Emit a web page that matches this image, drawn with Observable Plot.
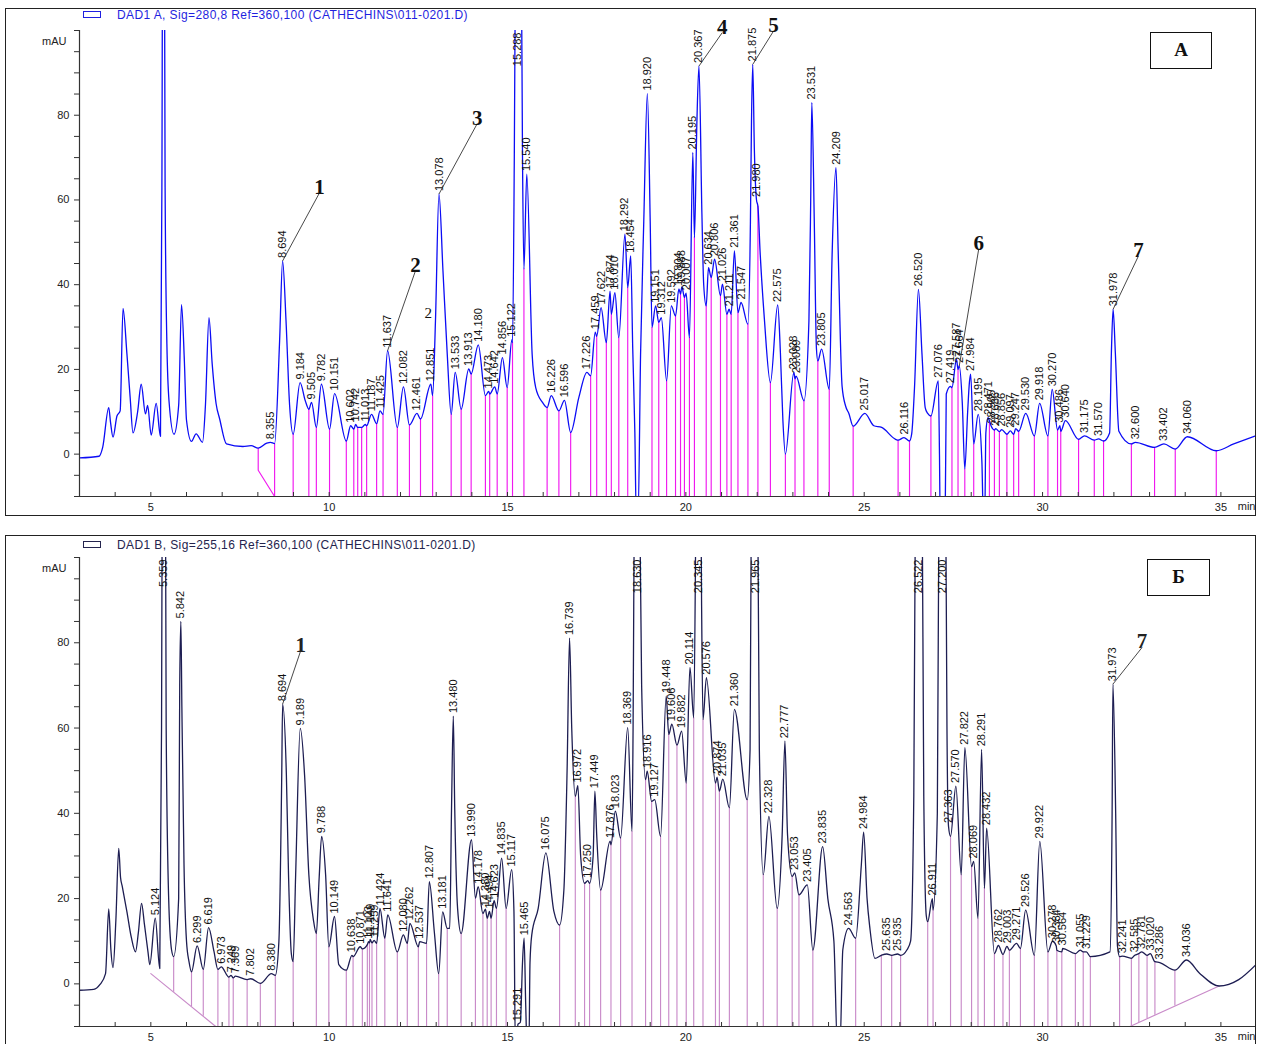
<!DOCTYPE html>
<html>
<head>
<meta charset="utf-8">
<script src="https://cdn.jsdelivr.net/npm/d3@7"></script>
<script src="https://cdn.jsdelivr.net/npm/@observablehq/plot@0.6"></script>
<style>
  body { margin: 0; background: #fff; font-family: "Liberation Sans", Arial, sans-serif; }
  #page { position: relative; width: 1261px; height: 1044px; overflow: hidden; }
  .frame { position: absolute; left: 5px; width: 1251px; border: 1.5px solid #222; box-sizing: border-box; }
  .chart { position: absolute; left: 0; }
  .hdr { position: absolute; left: 83px; font-size: 12px; line-height: 13px; white-space: nowrap; letter-spacing: 0.4px; }
  .hdr i { display: inline-block; width: 16px; height: 5px; border: 1.3px solid currentColor; margin-right: 16px; vertical-align: 1px; }
  .tag { position: absolute; border: 1.5px solid #111; box-sizing: border-box; text-align: center;
         font: bold 19px "Liberation Serif", "DejaVu Serif", serif; color: #111; }
</style>
</head>
<body>
<div id="page">
  <div class="frame" style="top:8px;height:508px"></div>
  <div class="frame" style="top:535px;height:520px"></div>
  <div class="chart" id="chartA" style="top:0"></div>
  <div class="chart" id="chartB" style="top:530px"></div>
  <div class="hdr" style="top:9px;color:#1f1fe0"><i></i>DAD1 A, Sig=280,8 Ref=360,100 (CATHECHINS\011-0201.D)</div>
  <div class="hdr" style="top:539px;color:#24244e"><i></i>DAD1 B, Sig=255,16 Ref=360,100 (CATHECHINS\011-0201.D)</div>
  <div class="tag" style="left:1150px;top:32px;width:62px;height:37px;line-height:34px">А</div>
  <div class="tag" style="left:1147px;top:559px;width:63px;height:37px;line-height:34px">Б</div>
</div>
<script>
// Retention time axis (min) and absorbance axis (mAU)
const X_DOMAIN = [3, 35.97];
const Y_DOMAIN = [-10, 100];
const xTickLabels = [5, 10, 15, 20, 25, 30, 35];
const yTickLabels = [0, 20, 40, 60, 80];

// ---- Signal A (280 nm) ----
// integrated peaks: [retention time, apex mAU]
const peaksA = [
  [8.355, 2.8], [8.694, 45.6], [9.184, 16.9], [9.505, 12.2], [9.782, 16.5], [10.151, 14.3],
  [10.602, 6.7], [10.742, 7.0], [11.013, 7.0], [11.187, 9.4], [11.425, 10.2], [11.637, 24.4],
  [12.082, 15.9], [12.461, 9.6], [12.851, 16.5], [13.078, 61.4], [13.533, 19.3], [13.913, 20.1],
  [14.180, 25.8], [14.473, 14.8], [14.642, 15.9], [14.856, 22.8], [15.122, 27.0], [15.288, 140],
  [15.540, 66.1], [16.226, 13.8], [16.596, 12.7], [17.226, 19.3], [17.459, 28.8], [17.622, 34.6],
  [17.874, 38.5], [18.010, 38.1], [18.292, 51.9], [18.454, 46.8], [18.920, 85.1], [19.151, 35.0],
  [19.312, 32.2], [19.592, 35.0], [19.804, 39.0], [19.888, 39.5], [20.007, 38.0], [20.195, 71.2],
  [20.367, 91.6], [20.634, 44.0], [20.806, 46.0], [21.026, 40.1], [21.211, 34.2], [21.361, 48.0],
  [21.547, 35.8], [21.875, 92.0], [21.980, 60.0], [22.575, 35.2], [23.028, 19.3], [23.089, 18.4],
  [23.531, 83.0], [23.805, 24.8], [24.209, 67.6], [25.017, 9.6], [26.116, 3.9], [26.520, 38.9],
  [27.076, 17.3], [27.419, 16.0], [27.587, 22.4], [27.664, 20.8], [27.984, 18.9], [28.195, 9.4],
  [28.471, 8.6], [28.565, 6.5], [28.686, 6.0], [28.856, 5.8], [29.097, 5.5], [29.247, 6.0],
  [29.530, 9.6], [29.918, 12.0], [30.270, 15.3], [30.486, 6.7], [30.640, 7.9], [31.175, 4.3],
  [31.570, 3.6], [31.978, 34.2], [32.600, 2.8], [33.402, 2.4], [34.060, 4.1]
];
// peak boundaries (drop lines): [time, mAU on the trace]
const dropsA = [
  [8.47, 2.5], [8.99, 4.7], [9.43, 10.6], [9.64, 6.3], [10.01, 5.9], [10.48, 3.1], [10.69, 5.9],
  [10.80, 6.3], [10.91, 6.3], [11.05, 6.7], [11.33, 7.2], [11.51, 9.4], [11.91, 6.3], [12.25, 6.9],
  [12.56, 8.3], [12.90, 13.8], [13.42, 9.4], [13.70, 10.6], [13.98, 18.9], [14.38, 13.8], [14.50, 14.2],
  [14.71, 14.2], [14.99, 15.7], [15.14, 26.3], [15.46, 43.7], [16.11, 11.0], [16.44, 10.2], [16.77, 5.1],
  [17.33, 18.5], [17.50, 27.8], [17.77, 26.3], [17.91, 33.0], [18.12, 27.5], [18.37, 39.3], [19.05, 29.9],
  [19.24, 31.1], [19.46, 17.3], [19.71, 32.6], [19.85, 37.8], [19.96, 37.0], [20.10, 27.5], [20.24, 51.1],
  [20.57, 35.0], [20.71, 41.7], [20.97, 37.4], [21.15, 33.0], [21.27, 33.0], [21.46, 33.4], [21.74, 30.7],
  [22.02, 58.5], [22.37, 16.9], [22.79, 0.0], [23.06, 17.8], [23.31, 12.6], [23.70, 22.0], [24.02, 15.3],
  [24.69, 6.6], [25.95, 3.3], [26.27, 3.1], [26.87, 9.0], [27.46, 15.7], [27.63, 20.0], [27.82, -3.5],
  [28.07, 2.4], [28.51, 7.9], [28.65, 5.7], [28.79, 5.3], [29.00, 4.7], [29.19, 4.7], [29.33, 5.4],
  [29.77, 4.3], [30.15, 4.3], [30.42, 5.7], [30.51, 5.4], [31.01, 3.5], [31.45, 3.3], [31.71, 3.1],
  [32.49, 2.4], [33.14, 1.6], [33.72, 1.2], [34.87, 0.8]
];
// remaining trace vertices (unintegrated peaks, flanks, dips)
const traceA = [
  [3.00, -0.9], [3.55, -0.5], [3.65, 1.6], [3.82, 11.0], [3.87, 7.5], [3.94, 4.0], [4.05, 9.0], [4.14, 10.2],
  [4.22, 34.4], [4.33, 23.6], [4.42, 13.4], [4.50, 5.0], [4.63, 10.0], [4.73, 16.5], [4.85, 9.5], [4.91, 11.5],
  [5.01, 4.5], [5.15, 12.0], [5.27, 4.2], [5.31, 63], [5.34, 150], [5.37, 150], [5.40, 63], [5.45, 26],
  [5.51, 12.5], [5.65, 4.7], [5.78, 11.5], [5.86, 35.3], [5.94, 22.0], [6.00, 8.0], [6.14, 3.0], [6.27, 4.8],
  [6.45, 2.8], [6.53, 11.4], [6.63, 32.2], [6.72, 21.3], [6.83, 11.9], [6.93, 8.3], [7.12, 2.4], [7.58, 1.8],
  [7.81, 2.0], [8.01, 1.4], [8.25, 2.6],
  [8.61, 26.7], [8.79, 31.5], [8.89, 11.6], [9.33, 12.6],
  [12.98, 31.5], [13.19, 43.3], [13.31, 23.6],
  [15.19, 70], [15.23, 125], [15.38, 125], [15.42, 70],
  [15.69, 23.6], [15.79, 15.7], [15.98, 12.2], [17.00, 13.4],
  [18.51, 25], [18.57, 5], [18.61, -15], [18.66, -15], [18.73, 23.6], [18.82, 55], [19.00, 55],
  [20.31, 78.7], [20.45, 56.6], [20.50, 40],
  [21.81, 55], [21.84, 78.7], [21.92, 72], [22.08, 47.9], [22.20, 32],
  [22.65, 24], [22.72, 8],
  [23.45, 31.5], [23.50, 60], [23.60, 55], [23.66, 25],
  [24.10, 47], [24.27, 48], [24.38, 16], [24.48, 11.3], [24.57, 9.6],
  [25.27, 6.7], [25.49, 6.3], [25.88, 3.5],
  [26.33, 4.7], [26.41, 15.7], [26.62, 23.6], [26.71, 11], [26.78, 9.6],
  [27.11, 0], [27.13, -15], [27.27, -15], [27.30, 14.2],
  [27.75, 12], [27.90, 10], [27.95, 17],
  [28.30, -2], [28.34, -15], [28.38, -15], [28.41, 5],
  [31.88, 5], [31.93, 24], [32.04, 24], [32.14, 5.4],
  [35.36, 2.4], [35.97, 4.3]
];
// drawn baseline segments
const baselinesA = [[[8.01, 1.4], [8.01, -3.8], [8.47, -10]]];
// numbered compounds: [number, peak time, number x (min), number y (mAU)]
const compoundsA = [
  ["1", 8.694, 9.73, 61.7], ["2", 11.637, 12.42, 43.3], ["3", 13.078, 14.15, 78.0],
  ["4", 20.367, 21.02, 99.5], ["5", 21.875, 22.46, 99.9], ["6", 27.664, 28.21, 48.4],
  ["7", 31.978, 32.69, 46.8]
];
const notesA = [["2", 12.78, 33.3]];

// ---- Signal B (255 nm) ----
const peaksB = [
  [5.124, 15.4], [5.359, 150], [5.842, 85], [6.299, 8.9], [6.619, 13.2], [6.973, 4.0], [7.249, 2.0],
  [7.369, 1.8], [7.802, 1.2], [8.380, 2.4], [8.694, 65.6], [9.189, 59.9], [9.788, 34.6], [10.149, 15.8],
  [10.638, 6.7], [10.871, 8.7], [11.103, 9.9], [11.149, 10.4], [11.259, 10.2], [11.424, 17.7],
  [11.641, 16.2], [12.080, 11.5], [12.262, 14.2], [12.537, 9.9], [12.807, 24.0], [13.181, 16.9],
  [13.480, 62.8], [13.990, 33.8], [14.178, 22.8], [14.380, 17.5], [14.494, 17.0], [14.623, 19.5],
  [14.835, 29.5], [15.117, 26.8], [15.291, -9.5], [15.465, 10.7], [16.075, 30.7], [16.739, 81.1],
  [16.972, 46.5], [17.250, 24.2], [17.449, 45.2], [17.876, 33.5], [18.023, 40.5], [18.369, 60.1],
  [18.630, 150], [18.916, 49.9], [19.127, 43.2], [19.448, 67.5], [19.606, 60.9], [19.882, 59.3],
  [20.114, 74.2], [20.345, 150], [20.576, 71.8], [20.874, 48.5], [21.035, 48.0], [21.360, 64.4],
  [21.965, 150], [22.328, 39.3], [22.777, 56.9], [23.053, 26.0], [23.405, 23.2], [23.835, 32.2],
  [24.563, 13.0], [24.984, 35.6], [25.635, 7.0], [25.935, 7.0], [26.522, 150], [26.911, 20.0],
  [27.200, 150], [27.363, 37.0], [27.570, 46.4], [27.822, 55.4], [28.069, 28.7], [28.291, 55.0],
  [28.432, 36.5], [28.762, 9.0], [29.003, 8.8], [29.271, 9.5], [29.526, 17.3], [29.922, 33.4],
  [30.278, 10.0], [30.384, 8.9], [30.564, 8.3], [31.055, 7.9], [31.229, 7.5], [31.973, 70.3],
  [32.241, 6.5], [32.585, 6.7], [32.781, 7.5], [33.020, 7.1], [33.286, 5.0], [34.036, 5.6]
];
const dropsB = [
  [5.64, 6.4], [6.14, 2.8], [6.47, 3.4], [6.88, 3.4], [7.19, 1.6], [7.31, 1.4], [7.70, 1.0], [8.07, 0.1],
  [8.49, 2.0], [8.99, 5.2], [9.64, 11.8], [9.99, 8.7], [10.48, 3.2], [10.67, 6.4], [10.93, 8.2], [11.07, 9.2],
  [11.13, 9.6], [11.20, 9.6], [11.33, 9.5], [11.56, 10.7], [11.91, 7.5], [12.19, 9.5], [12.50, 8.7],
  [12.73, 9.5], [13.07, 2.4], [13.31, 13.0], [13.70, 11.8], [14.10, 20.1], [14.31, 16.5], [14.43, 15.4],
  [14.54, 15.4], [14.69, 17.7], [14.96, 17.7], [16.46, 13.8], [16.90, 44.0], [17.16, 23.6], [17.30, 23.6],
  [17.61, 22.0], [17.90, 32.6], [18.17, 34.2], [18.49, 35.8], [18.87, 47.9], [19.04, 42.8], [19.29, 34.6],
  [19.52, 58.5], [19.75, 56.0], [20.01, 47.1], [20.22, 62.4], [20.48, 62.0], [20.83, 47.1], [20.94, 45.2],
  [21.22, 41.3], [21.72, 43.2], [22.17, 25.6], [22.56, 17.7], [22.98, 25.2], [23.17, 20.9], [23.56, 7.9],
  [24.76, 10.7], [25.48, 6.7], [25.77, 6.7], [26.02, 6.7], [26.78, 14.6], [26.93, 17.3], [27.42, 34.6],
  [27.72, 25.6], [28.01, 27.5], [28.19, 15.4], [28.37, 22.4], [28.65, 7.1], [28.89, 6.9], [29.07, 7.9],
  [29.38, 8.3], [29.77, 6.7], [30.15, 7.5], [30.40, 7.9], [30.54, 7.5], [30.92, 7.1], [31.14, 7.5],
  [31.34, 6.4], [32.16, 6.4], [32.49, 6.0], [32.70, 7.1], [32.93, 6.7], [33.15, 5.2], [33.71, 3.2]
];
const traceB = [
  [3.00, -1.5], [3.40, -1.3], [3.57, -0.2], [3.73, 2.4], [3.82, 17.6], [3.88, 8.0], [3.94, 3.8], [4.02, 15],
  [4.10, 31.8], [4.15, 25], [4.20, 22.8], [4.33, 16.9], [4.45, 11], [4.57, 7.5], [4.65, 12], [4.74, 18.9],
  [4.82, 14], [4.92, 7.5], [4.97, 4.5], [5.25, 3.6], [5.30, 60], [5.33, 140], [5.40, 140], [5.43, 60],
  [5.50, 20], [5.58, 8], [5.78, 20], [5.81, 70], [5.87, 65], [5.93, 28], [6.00, 10], [6.07, 5.2], [6.77, 7.6],
  [8.59, 9.9], [8.67, 49], [8.80, 49], [8.86, 25.6], [8.94, 7], [9.06, 25.6], [9.31, 49], [9.43, 25.6],
  [9.56, 14.9], [9.72, 25], [9.90, 25.6], [10.27, 4.5], [12.95, 12], [13.38, 13], [13.43, 41], [13.52, 41],
  [13.60, 17.7], [15.18, 17], [15.22, -15], [15.26, -15], [15.36, -9], [15.42, 5], [15.51, -5], [15.55, -15],
  [15.60, -15], [15.63, 5], [15.68, 11.5], [15.86, 17.7], [16.30, 17], [16.58, 22], [16.67, 50], [16.80, 60],
  [17.05, 30], [17.40, 30], [17.50, 35], [18.52, 60], [18.56, 120], [18.70, 120], [18.76, 70],
  [20.27, 100], [20.30, 140], [20.40, 140], [20.44, 90],
  [21.80, 55], [21.84, 120], [22.01, 120], [22.06, 55], [22.70, 35], [22.85, 35],
  [23.98, 20], [24.15, 10], [24.25, -15], [24.32, -15], [24.40, 8], [24.92, 28], [25.08, 20], [25.16, 13],
  [25.30, 6], [26.20, 8], [26.30, 10], [26.39, 44], [26.44, 120], [26.62, 120], [26.67, 44], [26.74, 16],
  [27.05, 40], [27.10, 120], [27.28, 120], [27.32, 60],
  [31.89, 7.5], [31.95, 40], [32.05, 40], [32.10, 8.9], [34.40, 2.5], [34.95, -0.5], [35.50, 1.0], [35.97, 4.4]
];
const baselinesB = [[[5.00, 2.4], [6.82, -10]], [[32.45, -10], [34.95, -0.5]]];
const compoundsB = [["1", 8.694, 9.20, 78.1], ["7", 31.973, 32.79, 78.9]];

const rows = arr => arr.map(([t, v]) => ({t, v}));

// value of a drawn baseline below time t (falls back to the bottom of the axis)
function floorAt(t, baselines) {
  for (const seg of baselines) {
    for (let i = 1; i < seg.length; i++) {
      const [t0, v0] = seg[i - 1], [t1, v1] = seg[i];
      if (t1 > t0 && t > t0 && t < t1) return v0 + (t - t0) / (t1 - t0) * (v1 - v0);
    }
  }
  return Y_DOMAIN[0];
}

function chromatogram(o) {
  const trace = rows([...o.peaks, ...o.drops, ...o.trace]).sort((a, b) => a.t - b.t);
  const drops = o.drops.map(([t, v]) => ({t, v, floor: floorAt(t, o.floors)}));
  const apex = new Map(o.peaks.map(([t, v]) => [t, v]));
  const onScale = o.peaks.filter(d => d[1] <= Y_DOMAIN[1]);
  const offScale = o.peaks.filter(d => d[1] > Y_DOMAIN[1]);
  const comp = o.compounds.map(([n, t, tx, ty]) => ({n, t, v: apex.get(t), tx, ty}));
  const fmt = d => d[0].toFixed(3);
  return Plot.plot({
    width: 1261, height: o.height,
    marginLeft: 79, marginRight: 6, marginTop: o.marginTop, marginBottom: o.marginBottom,
    x: {domain: X_DOMAIN}, y: {domain: Y_DOMAIN},
    style: {fontFamily: "'Liberation Sans', Arial, sans-serif", fontSize: "11px", color: "#222",
            background: "transparent", overflow: "visible"},
    marks: [
      Plot.ruleX(drops, {x: "t", y1: "v", y2: "floor", stroke: o.dropColor, strokeWidth: 1.15}),
      ...o.baselines.map(b => Plot.line(rows(b), {x: "t", y: "v", stroke: o.dropColor, strokeWidth: 1.15})),
      Plot.line(trace, {x: "t", y: "v", stroke: o.traceColor, strokeWidth: 1.3, curve: "monotone-x", clip: true}),
      Plot.text(onScale, {x: d => d[0], y: d => d[1], text: fmt, rotate: -90, textAnchor: "start",
                          dy: -3, fontSize: 11, fill: "#111"}),
      Plot.text(offScale, {x: d => d[0], y: () => Y_DOMAIN[1], text: fmt, rotate: -90, textAnchor: "end",
                           dy: 2, fontSize: 11, fill: "#111"}),
      Plot.link(comp, {x1: "t", y1: "v", x2: "tx", y2: "ty", stroke: "#333", strokeWidth: 0.9}),
      Plot.text(comp, {x: "tx", y: "ty", text: "n", lineAnchor: "bottom", dy: 1,
                       fontFamily: "'Liberation Serif', 'DejaVu Serif', serif", fontWeight: o.compoundWeight,
                       fontSize: 21, fill: o.compoundColor}),
      Plot.text(o.notes, {x: d => d[1], y: d => d[2], text: d => d[0],
                          fontFamily: "'Liberation Serif', serif", fontSize: 15, fill: "#111"}),
      Plot.ruleX([X_DOMAIN[0]], {stroke: "#333", strokeWidth: 1.2}),
      Plot.ruleY([Y_DOMAIN[0]], {stroke: "#333", strokeWidth: 1.2}),
      Plot.axisY({ticks: d3.range(-10, 101, 5), tickFormat: d => yTickLabels.includes(d) ? String(d) : "",
                  tickSize: 5, tickPadding: 5, label: null, stroke: "#333"}),
      Plot.axisX({ticks: d3.range(4, 36), tickFormat: () => "", tickSize: 4, dy: -4, label: null, stroke: "#333"}),
      Plot.axisX({ticks: xTickLabels, tickSize: 0, tickPadding: 7, label: null}),
      Plot.text(["mAU"], {frameAnchor: "top-left", textAnchor: "end", dx: -13, dy: 7, fontSize: 11, fill: "#222"}),
      Plot.text(["min"], {frameAnchor: "bottom-right", textAnchor: "end", dy: 13, fontSize: 11, fill: "#222"})
    ]
  });
}

document.getElementById("chartA").append(chromatogram({
  peaks: peaksA, drops: dropsA, trace: traceA, baselines: baselinesA, floors: [],
  compounds: compoundsA, notes: notesA,
  height: 520, marginTop: 30, marginBottom: 24,
  traceColor: "#0c0cf5", dropColor: "#f018ef", compoundColor: "#111", compoundWeight: "bold"
}));

document.getElementById("chartB").append(chromatogram({
  peaks: peaksB, drops: dropsB, trace: traceB, baselines: baselinesB, floors: baselinesB,
  compounds: compoundsB, notes: [],
  height: 514, marginTop: 27, marginBottom: 18,
  traceColor: "#1d1d52", dropColor: "#c98bc9", compoundColor: "#222", compoundWeight: "bold"
}));
</script>
</body>
</html>
